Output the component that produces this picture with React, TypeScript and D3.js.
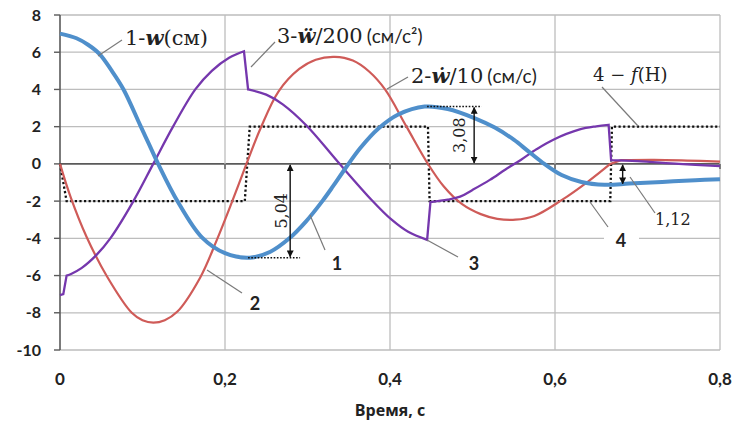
import React from 'react';
import * as d3 from 'd3';

const W = 737;
const H = 423;

// 1 - w (см)
const wT = [0, 0.02, 0.034, 0.048, 0.062, 0.077, 0.097, 0.108, 0.119, 0.143, 0.172, 0.2, 0.23, 0.255, 0.278, 0.298, 0.318, 0.331, 0.345, 0.364, 0.386, 0.41, 0.442, 0.47, 0.503, 0.527, 0.55, 0.567, 0.584, 0.608, 0.632, 0.66, 0.69, 0.73, 0.77, 0.8];
const wV = [7.0, 6.75, 6.4, 5.9, 5.05, 4.0, 2.1, 1.05, 0, -2.05, -3.95, -4.8, -5.04, -4.72, -4.0, -3.1, -2.0, -1.2, -0.3, 0.85, 1.9, 2.65, 3.08, 2.95, 2.45, 1.95, 1.3, 0.7, 0.1, -0.6, -0.97, -1.12, -1.06, -0.97, -0.88, -0.82];

// 2 - w' / 10 (см/с)
const vT = [0, 0.013, 0.032, 0.057, 0.087, 0.1, 0.113, 0.127, 0.142, 0.17, 0.19, 0.208, 0.226, 0.243, 0.265, 0.29, 0.31, 0.333, 0.355, 0.375, 0.394, 0.42, 0.446, 0.465, 0.487, 0.51, 0.53, 0.552, 0.575, 0.608, 0.64, 0.667, 0.68, 0.72, 0.76, 0.8];
const vV = [0, -1.8, -3.9, -6.05, -8.0, -8.4, -8.53, -8.4, -7.95, -6.1, -4.1, -2.1, 0, 1.9, 3.9, 5.1, 5.6, 5.75, 5.55, 4.95, 4.0, 2.0, 0, -1.2, -2.15, -2.7, -2.95, -3.0, -2.8, -1.95, -0.95, 0, 0.2, 0.22, 0.18, 0.12];
const vBreaks = [32];

// 3 - w'' / 200 (см/с²)
const aT = [0, 0.004, 0.008, 0.014, 0.026, 0.044, 0.061, 0.089, 0.113, 0.137, 0.164, 0.184, 0.205, 0.223, 0.228, 0.25, 0.27, 0.299, 0.337, 0.378, 0.402, 0.422, 0.445, 0.449, 0.47, 0.485, 0.5, 0.521, 0.54, 0.558, 0.578, 0.598, 0.63, 0.65, 0.665, 0.668, 0.7, 0.75, 0.8];
const aV = [-7.05, -7.0, -6.0, -5.9, -5.6, -4.9, -4, -2, 0, 2, 4, 5.0, 5.7, 6.05, 4.0, 3.72, 3.2, 2.05, 0.1, -1.95, -3.0, -3.65, -4.08, -2.05, -1.92, -1.76, -1.4, -0.86, -0.3, 0.2, 0.8, 1.3, 1.85, 2.02, 2.1, 0.2, 0.15, 0.0, -0.12];
const aBreaks = [2, 14, 23, 35];

// 4 - f (Н)
const fT = [0, 0.008, 0.224, 0.23, 0.446, 0.448, 0.667, 0.669, 0.8];
const fV = [0, -2, -2, 2, 2, -2, -2, 2, 2];

const xTicks = [0, 0.2, 0.4, 0.6, 0.8];
const yTicks = [-10, -8, -6, -4, -2, 0, 2, 4, 6, 8];

// amplitude marks
const wMin = -5.04;
const wMax = 3.08;
const wLast = -1.12;

const serif = '"DejaVu Serif", "Liberation Serif", serif';
const sans = 'Lato, "Open Sans", sans-serif';

export default function App() {
  const x = d3.scaleLinear().domain([0, 0.8]).range([60, 720]);
  const y = d3.scaleLinear().domain([-10, 8]).range([350, 15]);

  // smooth pieces, joined by straight jumps
  const smoothPath = (ts: number[], vs: number[], starts: number[] = []) => {
    const bounds = [0, ...starts, ts.length];
    let d = '';
    for (let k = 0; k < bounds.length - 1; k++) {
      const idx = d3.range(bounds[k], bounds[k + 1]);
      const seg = d3.line<number>()
        .x(i => x(ts[i]))
        .y(i => y(vs[i]))
        .curve(d3.curveCatmullRom.alpha(0.5))(idx) || '';
      d += k === 0 ? seg : 'L' + seg.slice(1);
    }
    return d;
  };

  const fPath = d3.line<number>().x((_, i) => x(fT[i])).y(v => y(v))(fV) || '';

  const lead = '#7a7a7a';

  return (
    <div style={{ position: 'absolute', left: 0, top: 0 }}>
      <svg width={W} height={H} style={{ display: 'block', background: '#fff' }}>
        <defs>
          <marker id="arr" viewBox="0 0 10 10" refX="9" refY="5" markerWidth="7" markerHeight="7"
            orient="auto-start-reverse" markerUnits="userSpaceOnUse">
            <path d="M0,0 L10,5 L0,10 z" fill="#111" />
          </marker>
        </defs>

        {/* grid */}
        {yTicks.map(t => (
          <line key={'gy' + t} x1={x(0)} x2={x(0.8)} y1={y(t)} y2={y(t)}
            stroke={t === 0 ? '#5a5a5a' : '#bdbdbd'} strokeWidth={t === 0 ? 1.6 : 1.3} />
        ))}
        {xTicks.filter(t => t > 0).map(t => (
          <line key={'gx' + t} x1={x(t)} x2={x(t)} y1={y(8)} y2={y(-10)} stroke="#bdbdbd" strokeWidth={1.3} />
        ))}
        {xTicks.filter(t => t > 0).map(t => (
          <line key={'tx' + t} x1={x(t)} x2={x(t)} y1={y(0)} y2={y(0) + 5} stroke="#5a5a5a" strokeWidth={1.4} />
        ))}
        <line x1={x(0)} x2={x(0)} y1={y(8)} y2={y(-10)} stroke="#5a5a5a" strokeWidth={1.6} />
        {yTicks.map(t => (
          <line key={'ty' + t} x1={x(0) - 6} x2={x(0)} y1={y(t)} y2={y(t)} stroke="#5a5a5a" strokeWidth={1.4} />
        ))}

        {/* tick labels */}
        {yTicks.map(t => (
          <text key={'ly' + t} x={41} y={y(t) + 5.5} textAnchor="end" fontFamily={sans}
            fontWeight={700} fontSize={16} fill="#222">{t}</text>
        ))}
        {xTicks.map(t => (
          <text key={'lx' + t} x={x(t)} y={385} textAnchor="middle" fontFamily={sans}
            fontWeight={700} fontSize={17} fill="#222">{String(t).replace('.', ',')}</text>
        ))}
        <text x={390} y={416} textAnchor="middle" fontFamily='"Open Sans", sans-serif' fontWeight={700} fontSize={16} fill="#222">Время, с</text>

        {/* series */}
        <path d={fPath} fill="none" stroke="#111" strokeWidth={2.3} strokeDasharray="2.2 2.4" />
        <path d={smoothPath(vT, vV, vBreaks)} fill="none" stroke="#cf5b58" strokeWidth={2.2} />
        <path d={smoothPath(aT, aV, aBreaks)} fill="none" stroke="#7537ad" strokeWidth={2.3} />
        <path d={smoothPath(wT, wV)} fill="none" stroke="#4f8fcb" strokeWidth={4} />

        {/* amplitude marks */}
        <line x1={x(0.228)} x2={x(0.291)} y1={y(wMin)} y2={y(wMin)} stroke="#111" strokeWidth={1.6} strokeDasharray="1.6 1.6" />
        <line x1={x(0.279)} x2={x(0.279)} y1={y(0) + 1} y2={y(wMin) - 1} stroke="#111" strokeWidth={1.4}
          markerStart="url(#arr)" markerEnd="url(#arr)" />
        <text transform={`translate(${x(0.279) - 3},${y(wMin / 2)}) rotate(-90)`} textAnchor="middle"
          fontFamily={serif} fontSize={16} fill="#222">5,04</text>

        <line x1={x(0.445)} x2={x(0.511)} y1={y(wMax)} y2={y(wMax)} stroke="#111" strokeWidth={1.6} strokeDasharray="1.6 1.6" />
        <line x1={x(0.502)} x2={x(0.502)} y1={y(wMax) + 1} y2={y(0) - 1} stroke="#111" strokeWidth={1.4}
          markerStart="url(#arr)" markerEnd="url(#arr)" />
        <text transform={`translate(${x(0.502) - 9},${y(wMax / 2)}) rotate(-90)`} textAnchor="middle"
          fontFamily={serif} fontSize={16} fill="#222">3,08</text>

        <line x1={x(0.682)} x2={x(0.682)} y1={y(0) + 1} y2={y(wLast) - 1} stroke="#111" strokeWidth={1.4}
          markerStart="url(#arr)" markerEnd="url(#arr)" />
        <line x1={630} y1={177} x2={655} y2={213} stroke={lead} strokeWidth={1.2} />
        <text x={655} y={225} fontFamily={serif} fontSize={16} fill="#222">1,12</text>

        {/* series labels */}
        <line x1={98} y1={56} x2={122} y2={40} stroke={lead} strokeWidth={1.2} />
        <text x={125} y={45} fontFamily={serif} fontSize={21} fill="#222">
          1-<tspan fontWeight={700} fontStyle="italic">w</tspan>(см)
        </text>

        <line x1={251} y1={67} x2={275} y2={42} stroke={lead} strokeWidth={1.2} />
        <text x={277} y={43} fontFamily={serif} fontSize={21} fill="#222">
          3-<tspan fontWeight={700} fontStyle="italic">ẅ</tspan>/200
          <tspan fontFamily={sans} fontSize={19} dx={4}>(см/с²)</tspan>
        </text>

        <line x1={387} y1={89} x2={408} y2={77} stroke={lead} strokeWidth={1.2} />
        <text x={411} y={83} fontFamily={serif} fontSize={21} fill="#222">
          2-<tspan fontWeight={700} fontStyle="italic">ẇ</tspan>/10
          <tspan fontFamily={sans} fontSize={19} dx={4}>(см/с)</tspan>
        </text>

        <line x1={602} y1={87} x2={638} y2={126} stroke={lead} strokeWidth={1.2} />
        <text x={593} y={81} fontFamily={serif} fontSize={18} fill="#222">
          4 − <tspan fontStyle="italic">f</tspan>(Н)
        </text>

        {/* curve numbers */}
        <line x1={310} y1={215} x2={325} y2={250} stroke={lead} strokeWidth={1.2} />
        <text x={337} y={270} textAnchor="middle" fontFamily={sans} fontWeight={700} fontSize={18} fill="#222">1</text>

        <line x1={207} y1={270} x2={242} y2={293} stroke={lead} strokeWidth={1.2} />
        <text x={255} y={310} textAnchor="middle" fontFamily={sans} fontWeight={700} fontSize={18} fill="#222">2</text>

        <line x1={427} y1={240} x2={458} y2={257} stroke={lead} strokeWidth={1.2} />
        <text x={474} y={270} textAnchor="middle" fontFamily={sans} fontWeight={700} fontSize={18} fill="#222">3</text>

        <line x1={590} y1={202} x2={608} y2={227} stroke={lead} strokeWidth={1.2} />
        <rect x={604} y={230} width={35} height={18} fill="#fff" />
        <text x={621} y={247} textAnchor="middle" fontFamily={sans} fontWeight={700} fontSize={18} fill="#222">4</text>
      </svg>
    </div>
  );
}
